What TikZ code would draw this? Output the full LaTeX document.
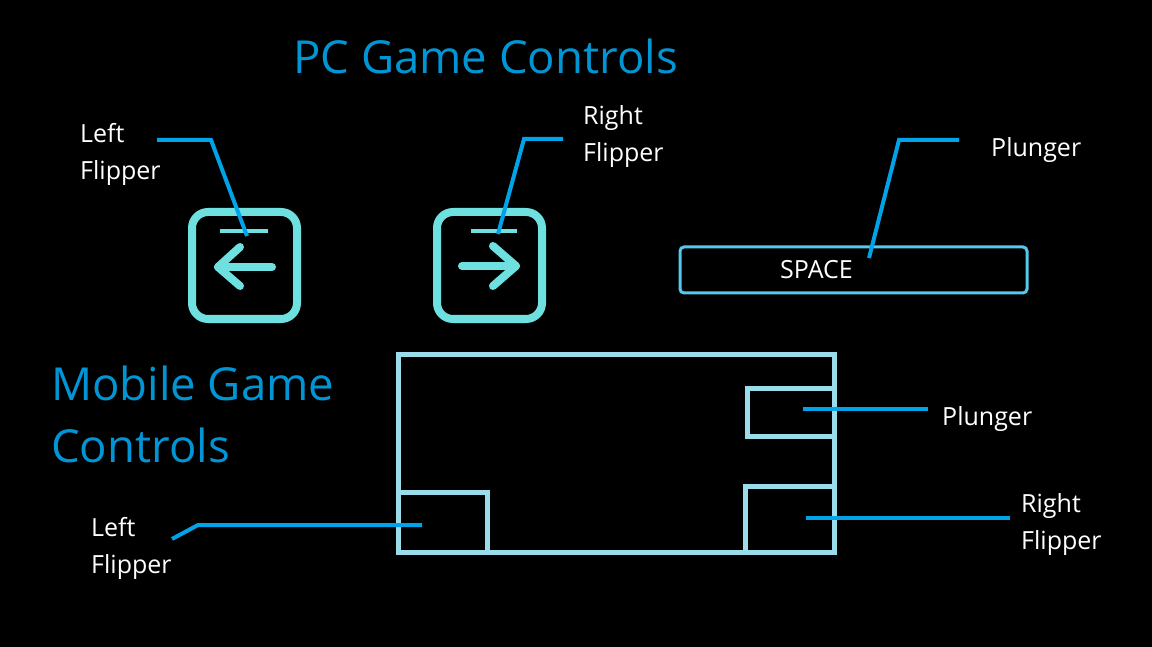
\documentclass[tikz,border=0pt]{standalone}
\usepackage{fontspec}
\setmainfont{Open Sans}
\definecolor{title}{RGB}{0,150,214}
\definecolor{conn}{RGB}{0,162,232}
\definecolor{key}{RGB}{110,224,224}
\definecolor{mob}{RGB}{155,220,235}
\definecolor{spc}{RGB}{85,200,238}
\tikzset{
  lbl/.style={anchor=west,text=white,font=\fontsize{25}{37}\selectfont,align=left,inner sep=0pt},
  ttl/.style={anchor=west,text=title,font=\fontsize{45.5}{62}\selectfont,align=left,inner sep=0pt},
  conline/.style={draw=conn,line width=4pt},
  keybox/.style={draw=key,line width=8pt,rounded corners=16pt},
  keyline/.style={draw=key,line width=8pt,line cap=round,line join=round},
  mobbox/.style={draw=mob,line width=5pt},
}
\begin{document}
\begin{tikzpicture}[x=1pt,y=-1pt]
\fill[black] (0,0) rectangle (1152,647);
\useasboundingbox (0,0) rectangle (1152,647);

% titles
\node[ttl] (pct) at (293,56) {PC Game Controls};
\node[ttl] (mbt) at (51,414) {Mobile Game\\Controls};

% left key
\draw[keybox] (192,212) rectangle (297,319);
\draw[draw=key,line width=4pt] (220,231) -- (268,231);
\draw[keyline] (272,267) -- (218,267);
\draw[keyline] (240,247) -- (218,267) -- (240,286);
\coordinate (lk) at (247,236);

% right key
\draw[keybox] (437,212) rectangle (542,319);
\draw[draw=key,line width=4pt] (471,231) -- (517,231);
\draw[keyline] (462,266) -- (516,266);
\draw[keyline] (493,246) -- (516,266) -- (493,286);
\coordinate (rk) at (498,234);

% space key
\draw[draw=spc,line width=3pt,rounded corners=4pt] (680,247) rectangle (1027,293);
\node[anchor=west,text=white,font=\fontsize{25}{30}\selectfont,inner sep=0pt] (space) at (780,270) {SPACE};
\coordinate (sk) at (869,258);

% PC labels
\node[lbl] (lfl) at (80,154) {Left\\Flipper};
\node[lbl] (rfl) at (583,137) {Right\\Flipper};
\node[lbl] (pl) at (991,150) {Plunger};
\coordinate (lfa) at (157,140);
\coordinate (rfa) at (563,139);
\coordinate (pla) at (959,140);

\draw[conline] (lfa) -- (211,140) -- (lk);
\draw[conline] (rfa) -- (524,139) -- (rk);
\draw[conline] (pla) -- (899,140) -- (sk);

% mobile screen
\draw[mobbox] (398.5,354.5) rectangle (834.5,552.5);
\draw[mobbox] (834.5,388.5) -- (747.5,388.5) -- (747.5,436.5) -- (834.5,436.5);
\draw[mobbox] (834.5,486.5) -- (745.5,486.5) -- (745.5,550);
\draw[mobbox] (398.5,492.5) -- (487.5,492.5) -- (487.5,553);

\coordinate (mp) at (803,409);
\coordinate (mr) at (806,518);
\coordinate (ml) at (422,525);
\coordinate (mla) at (172,539);
\coordinate (mpa) at (928,409);
\coordinate (mra) at (1010,518);

\node[lbl] (mpl) at (942,419) {Plunger};
\node[lbl] (mrl) at (1021,525) {Right\\Flipper};
\node[lbl] (mll) at (91,548) {Left\\Flipper};

\draw[conline] (mp) -- (mpa);
\draw[conline] (mr) -- (mra);
\draw[conline] (mla) -- (198,525) -- (ml);
\end{tikzpicture}
\end{document}
